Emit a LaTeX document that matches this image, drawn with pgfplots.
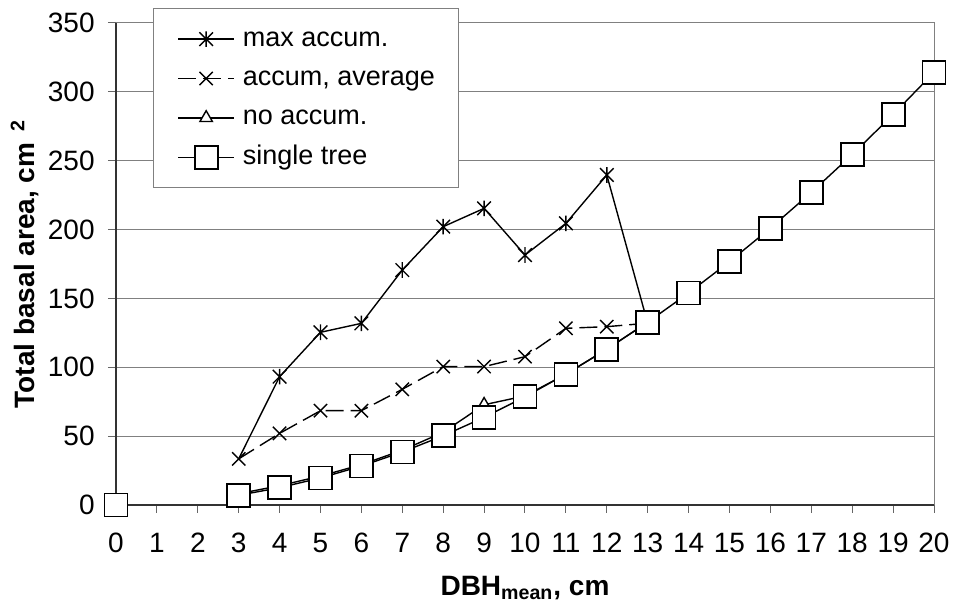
\documentclass[border=0pt]{standalone}
\usepackage{fontspec}
\setmainfont{Liberation Sans}
\usepackage{pgfplots}
\pgfplotsset{compat=1.18}

% Excel-like star: an x with a vertical bar
\pgfdeclareplotmark{xstar}{%
  \pgfpathmoveto{\pgfqpoint{-\pgfplotmarksize}{-\pgfplotmarksize}}%
  \pgfpathlineto{\pgfqpoint{\pgfplotmarksize}{\pgfplotmarksize}}%
  \pgfpathmoveto{\pgfqpoint{-\pgfplotmarksize}{\pgfplotmarksize}}%
  \pgfpathlineto{\pgfqpoint{\pgfplotmarksize}{-\pgfplotmarksize}}%
  \pgfpathmoveto{\pgfqpoint{0pt}{-1.15\pgfplotmarksize}}%
  \pgfpathlineto{\pgfqpoint{0pt}{1.15\pgfplotmarksize}}%
  \pgfusepathqstroke}

\begin{document}
\begin{tikzpicture}
\path[use as bounding box] (-58pt,-50pt) rectangle (419pt,252.5pt);
\begin{axis}[
    at={(0pt,0pt)}, anchor=south west,
    scale only axis,
    width=409pt, height=241pt,
    xmin=0, xmax=20,
    ymin=0, ymax=350,
    xtick={0,1,...,20},
    ytick={0,50,...,350},
    axis x line*=bottom,
    axis y line*=left,
    axis line style={black!80, line width=0.6pt},
    tick align=outside,
    major tick length=4pt,
    tick style={black!60, line width=0.5pt},
    ymajorgrids,
    grid style={black!50, line width=0.5pt},
    clip=false,
    unbounded coords=jump,
    /pgf/number format/assume math mode=true,
    tick label style={font=\fontsize{14}{16}\selectfont, inner sep=0pt},
    xticklabel style={anchor=north, yshift=-9.8pt},
    yticklabel style={anchor=east, xshift=-6.5pt},
    every axis x label/.style={at={(axis description cs:0.5,-0.187)}, anchor=base},
    every axis y label/.style={at={(axis description cs:-0.1112,0.5)}, rotate=90, anchor=center},
    label style={font=\bfseries\fontsize{14}{16}\selectfont},
    xlabel={DBH\textsubscript{mean}, cm},
    ylabel={Total basal area, cm\hspace{0.4em}\textsuperscript{2}},
    legend style={
        at={(rel axis cs:0.0452,1.0311)}, anchor=north west,
        draw=black!50, line width=0.5pt, fill=white,
        font=\fontsize{13.5}{15}\selectfont,
        inner xsep=12pt, inner ysep=9.3pt,
        row sep=7.7pt, column sep=4pt,
        nodes={inner sep=0pt, text height=9.5pt, text depth=2.5pt},
        cells={anchor=west},
    },
    legend image code/.code={%
        \draw[#1, mark indices={2}]
            plot coordinates {(0pt,0pt) (14pt,0pt) (28pt,0pt)};
    },
]
\addplot[black, line width=0.7pt, mark=xstar, mark size=3.4pt,
         mark indices={2,3,4,5,6,7,8,9,10,11},
         mark options={solid}]
    coordinates {
    (3,33.5) (4,93.2) (5,125.4) (6,131.9) (7,170.6) (8,202.1)
    (9,215.4) (10,181.5) (11,204.5) (12,239.6) (13,132)
    };
\addlegendentry{max accum.}

\addplot[black, line width=0.7pt, dash pattern=on 9pt off 3.5pt,
         mark=x, mark size=4.7pt, mark options={solid}]
    coordinates {
    (3,33.5) (4,52) (5,68.5) (6,68.5) (7,84) (8,100.5)
    (9,100.5) (10,107.7) (11,128.3) (12,129.5) (13,132)
    };
\addlegendentry{accum, average}

\addplot[black, line width=0.7pt, mark=triangle*, mark size=3.6pt,
         mark options={fill=white, solid}]
    coordinates {
    (3,8.2) (4,14) (5,21) (6,29.3) (7,39.8) (8,52.8)
    (9,72.8) (10,79.2) (11,95) (12,113.1) (13,132.7)
    };
\addlegendentry{no accum.}

\addplot[black, line width=0.7pt, mark=square*, mark size=5.75pt,
         mark options={fill=white, solid, line width=0.9pt}]
    coordinates {
    (0,0) (1,nan)
    (3,7.07) (4,12.57) (5,19.63) (6,28.27) (7,38.48) (8,50.27)
    (9,63.62) (10,78.54) (11,95.03) (12,113.1) (13,132.73)
    (14,153.94) (15,176.71) (16,201.06) (17,226.98) (18,254.47)
    (19,283.53) (20,314.16)
    };
\addlegendentry{single tree}

\draw[black!50, line width=0.5pt]
    (rel axis cs:0,1) -- (rel axis cs:1,1) -- (rel axis cs:1,0);
\end{axis}
\end{tikzpicture}
\end{document}
